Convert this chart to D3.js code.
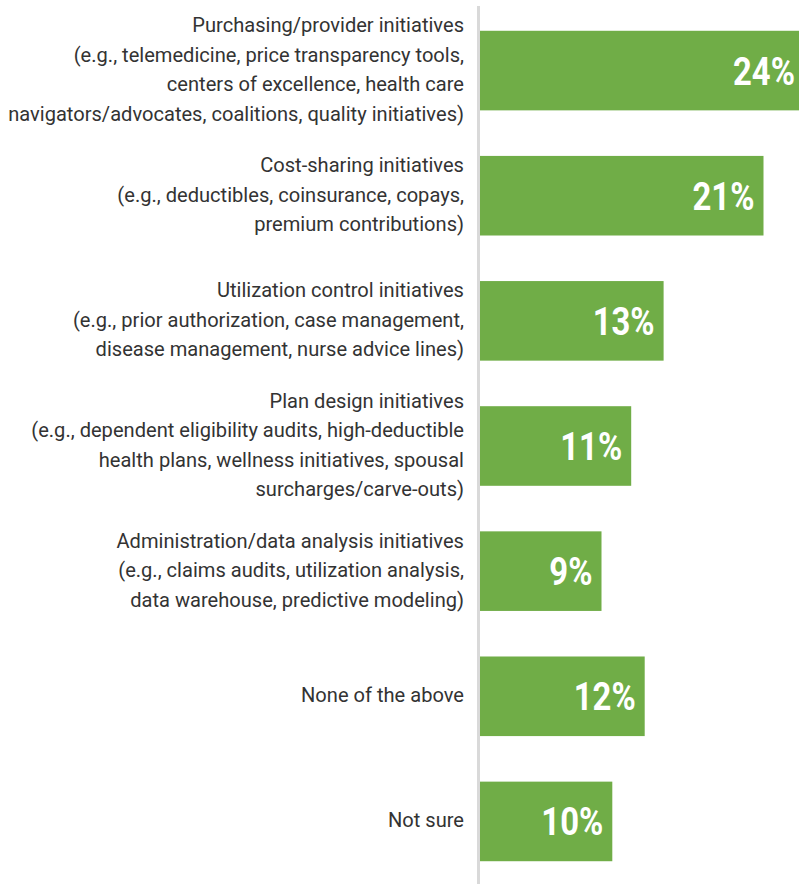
<!doctype html>
<html>
<head>
<meta charset="utf-8">
<script src="https://d3js.org/d3.v7.min.js"></script>
<style>
  body { margin: 0; background: #fff; }
  svg { display: block; }
</style>
</head>
<body>
<div id="viz"></div>
<script>

// categories, each one a list of label lines
var categories = [
  ['Purchasing/provider initiatives',
   '(e.g., telemedicine, price transparency tools,',
   'centers of excellence, health care',
   'navigators/advocates, coalitions, quality initiatives)'],
  ['Cost-sharing initiatives',
   '(e.g., deductibles, coinsurance, copays,',
   'premium contributions)'],
  ['Utilization control initiatives',
   '(e.g., prior authorization, case management,',
   'disease management, nurse advice lines)'],
  ['Plan design initiatives',
   '(e.g., dependent eligibility audits, high-deductible',
   'health plans, wellness initiatives, spousal',
   'surcharges/carve-outs)'],
  ['Administration/data analysis initiatives',
   '(e.g., claims audits, utilization analysis,',
   'data warehouse, predictive modeling)'],
  ['None of the above'],
  ['Not sure']
]

var values = [24, 21, 13.6, 11.2, 9, 12.2, 9.8]
var valueLabels = ['24%', '21%', '13%', '11%', '9%', '12%', '10%']

var width = 799, height = 884
var green = '#70ad47'
var textFont = 'Roboto, sans-serif'

var svg = d3.select('#viz').append('svg')
  .attr('width', width)
  .attr('height', height)

var idx = d3.range(categories.length)

var y = d3.scaleBand()
  .domain(idx)
  .range([8, 884])
  .paddingInner(0.364)
  .paddingOuter(0.182)

var x = d3.scaleLinear()
  .domain([0, 24])
  .range([480, 804])

// bars
svg.selectAll('rect.bar')
  .data(idx)
  .enter()
  .append('rect')
  .attr('class', 'bar')
  .attr('x', x(0))
  .attr('y', function(i) { return y(i) })
  .attr('width', function(i) { return x(values[i]) - x(0) })
  .attr('height', y.bandwidth())
  .style('fill', green)

// vertical axis line
svg.append('line')
  .attr('x1', 478.5).attr('x2', 478.5)
  .attr('y1', 6).attr('y2', height)
  .style('stroke', '#d9d9d9')
  .style('stroke-width', 3)

// category labels (condensed by a horizontal squeeze, the original face is narrow)
var lineH = 29.5, fs = 21
var labels = svg.selectAll('text.cat')
  .data(idx)
  .enter()
  .append('text')
  .attr('class', 'cat')
  .attr('text-anchor', 'end')
  .style('font-family', textFont)
  .style('font-size', fs + 'px')
  .style('fill', '#333')

labels.each(function(i) {
  var lines = categories[i]
  var top = -(lines.length - 1) * lineH / 2
  d3.select(this).selectAll('tspan')
    .data(lines)
    .enter()
    .append('tspan')
    .attr('x', 0)
    .attr('y', function(d, k) { return top + k * lineH + 6 })
    .text(function(d) { return d })
})

// widest line in the reference is 456px wide
var widest = 0
labels.selectAll('tspan').each(function() {
  widest = Math.max(widest, this.getComputedTextLength())
})
var sx = 456 / widest
labels.attr('transform', function(i) {
  return 'translate(464,' + (y(i) + y.bandwidth() / 2) + ') scale(' + sx + ',1)'
})

// value labels inside bars
var vals = svg.selectAll('text.val')
  .data(idx)
  .enter()
  .append('text')
  .attr('class', 'val')
  .attr('text-anchor', 'end')
  .style('font-family', textFont)
  .style('font-weight', 'bold')
  .style('font-size', '39px')
  .style('fill', '#fff')
  .text(function(i) { return valueLabels[i] })

// "24%" is about 62px wide in the reference
var vsx = 62 / vals.nodes()[0].getComputedTextLength()
vals.attr('transform', function(i) {
  var xr = Math.min(x(values[i]), width + 5) - 9
  return 'translate(' + xr + ',' + (y(i) + y.bandwidth() / 2 + 14) + ') scale(' + vsx + ',1)'
})

</script>
</body>
</html>
